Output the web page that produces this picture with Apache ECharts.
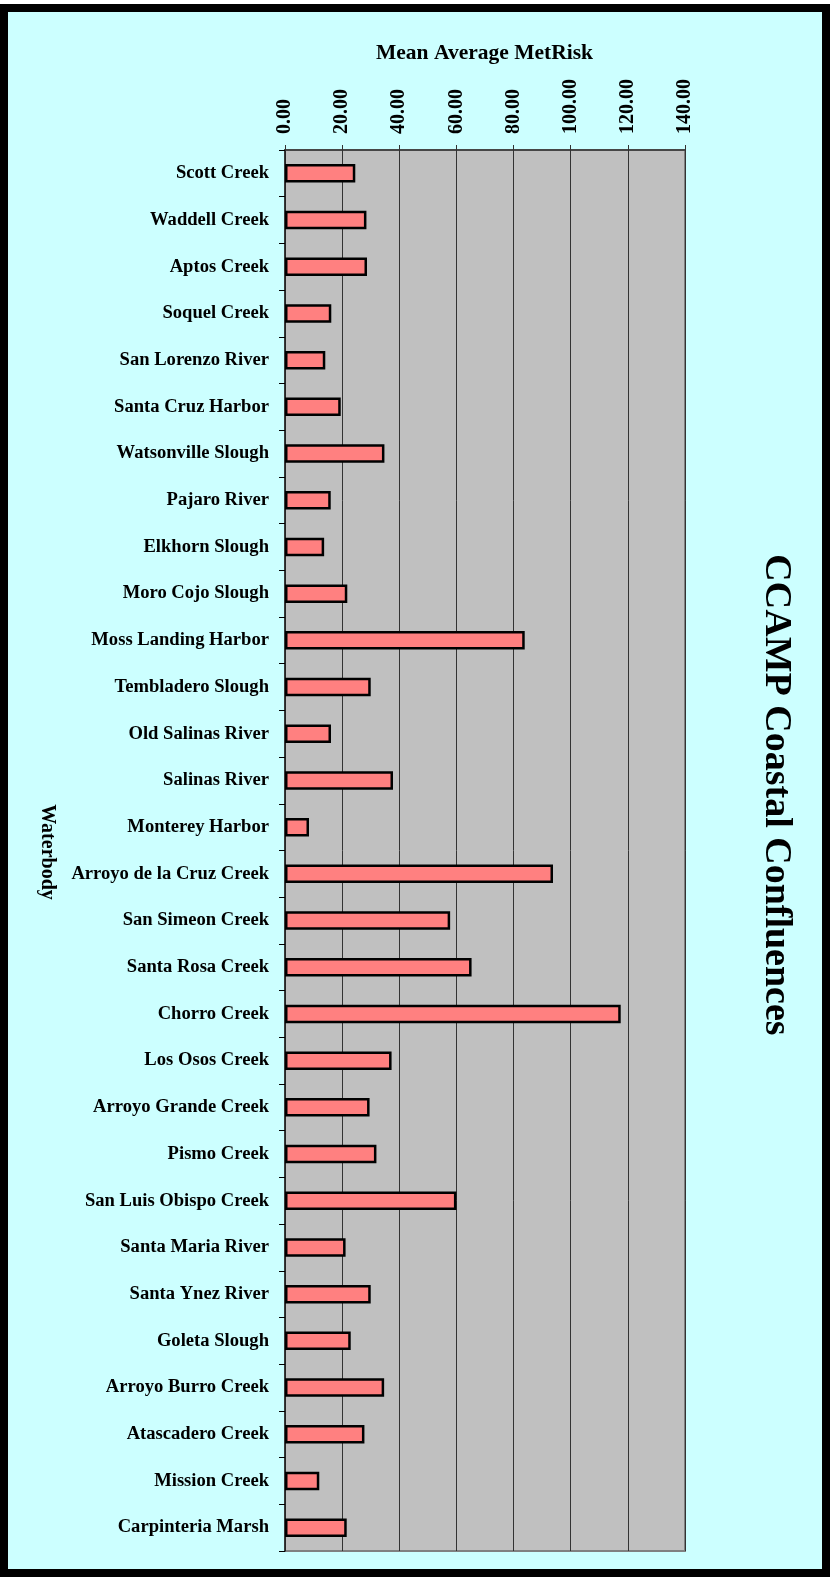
<!DOCTYPE html>
<html>
<head>
<meta charset="utf-8">
<script src="https://cdn.jsdelivr.net/npm/echarts@6/dist/echarts.min.js"></script>
<style>
  html, body { margin: 0; padding: 0; background: #ffffff; }
  #frame { position: absolute; left: 0; top: 4px; width: 830px; height: 1573px; box-sizing: border-box; border: 8px solid #000; background: #CCFFFF; }
  #chart { position: absolute; left: 0; top: 0; width: 830px; height: 1577px; }
</style>
</head>
<body>
<div id="frame"></div>
<div id="chart"></div>
<script>
const categories = [
  "Scott Creek", "Waddell Creek", "Aptos Creek", "Soquel Creek", "San Lorenzo River",
  "Santa Cruz Harbor", "Watsonville Slough", "Pajaro River", "Elkhorn Slough", "Moro Cojo Slough",
  "Moss Landing Harbor", "Tembladero Slough", "Old Salinas River", "Salinas River", "Monterey Harbor",
  "Arroyo de la Cruz Creek", "San Simeon Creek", "Santa Rosa Creek", "Chorro Creek", "Los Osos Creek",
  "Arroyo Grande Creek", "Pismo Creek", "San Luis Obispo Creek", "Santa Maria River", "Santa Ynez River",
  "Goleta Slough", "Arroyo Burro Creek", "Atascadero Creek", "Mission Creek", "Carpinteria Marsh"
];
const metRisk = [
  24.6, 28.5, 28.7, 16.2, 14.1,
  19.5, 34.8, 16.0, 13.7, 21.8,
  83.9, 30.0, 16.1, 37.8, 8.4,
  93.8, 57.8, 65.3, 117.5, 37.3,
  29.6, 32.0, 60.0, 21.2, 30.0,
  23.0, 34.7, 27.8, 12.0, 21.6
];
const tickValues = [0, 20, 40, 60, 80, 100, 120, 140];
const chartTitle = "CCAMP Coastal Confluences";
const valueAxisTitle = "Mean Average MetRisk";
const categoryAxisTitle = "Waterbody";

const FONT = "'Liberation Serif', 'Times New Roman', serif";

const chart = echarts.init(document.getElementById('chart'), null, { renderer: 'canvas' });
chart.setOption({
  backgroundColor: 'transparent',
  animation: false,
  grid: {
    left: 285, top: 150, right: 145, bottom: 26,
    show: true, backgroundColor: '#C0C0C0', borderColor: '#808080', borderWidth: 2
  },
  xAxis: {
    type: 'value', position: 'top',
    min: tickValues[0], max: tickValues[tickValues.length - 1], interval: 20,
    axisLine: { show: true, lineStyle: { color: '#333', width: 1.5 } },
    axisTick: { show: true, length: 5, lineStyle: { color: '#333', width: 1 } },
    splitLine: { show: true, lineStyle: { color: '#333', width: 1 } },
    axisLabel: {
      rotate: -90, margin: 16,
      fontFamily: FONT, fontWeight: 'bold', fontSize: 20, color: '#000',
      formatter: v => v.toFixed(2)
    }
  },
  yAxis: {
    type: 'category', data: categories, inverse: true,
    axisLine: { show: true, lineStyle: { color: '#222', width: 1.5 } },
    axisTick: { show: true, length: 6, lineStyle: { color: '#000', width: 1 } },
    splitLine: { show: false },
    axisLabel: {
      margin: 16, fontFamily: FONT, fontWeight: 'bold', fontSize: 18.6, color: '#000'
    }
  },
  series: [{
    type: 'bar', data: metRisk, barWidth: 18.5,
    itemStyle: { color: '#FF8080', borderColor: '#000', borderWidth: 2.5 }
  }],
  graphic: [
    {
      type: 'text', x: 484.5, y: 53,
      style: { text: valueAxisTitle, font: "bold 21.5px " + FONT, fill: '#000',
               align: 'center', verticalAlign: 'middle', textAlign: 'center', textVerticalAlign: 'middle' }
    },
    {
      type: 'text', x: 776, y: 795, rotation: -Math.PI / 2,
      style: { text: chartTitle, font: "bold 38px " + FONT, fill: '#000',
               align: 'center', verticalAlign: 'middle', textAlign: 'center', textVerticalAlign: 'middle' }
    },
    {
      type: 'text', x: 47, y: 852, rotation: -Math.PI / 2,
      style: { text: categoryAxisTitle, font: "bold 20px " + FONT, fill: '#000',
               align: 'center', verticalAlign: 'middle', textAlign: 'center', textVerticalAlign: 'middle' }
    }
  ]
});
</script>
</body>
</html>
